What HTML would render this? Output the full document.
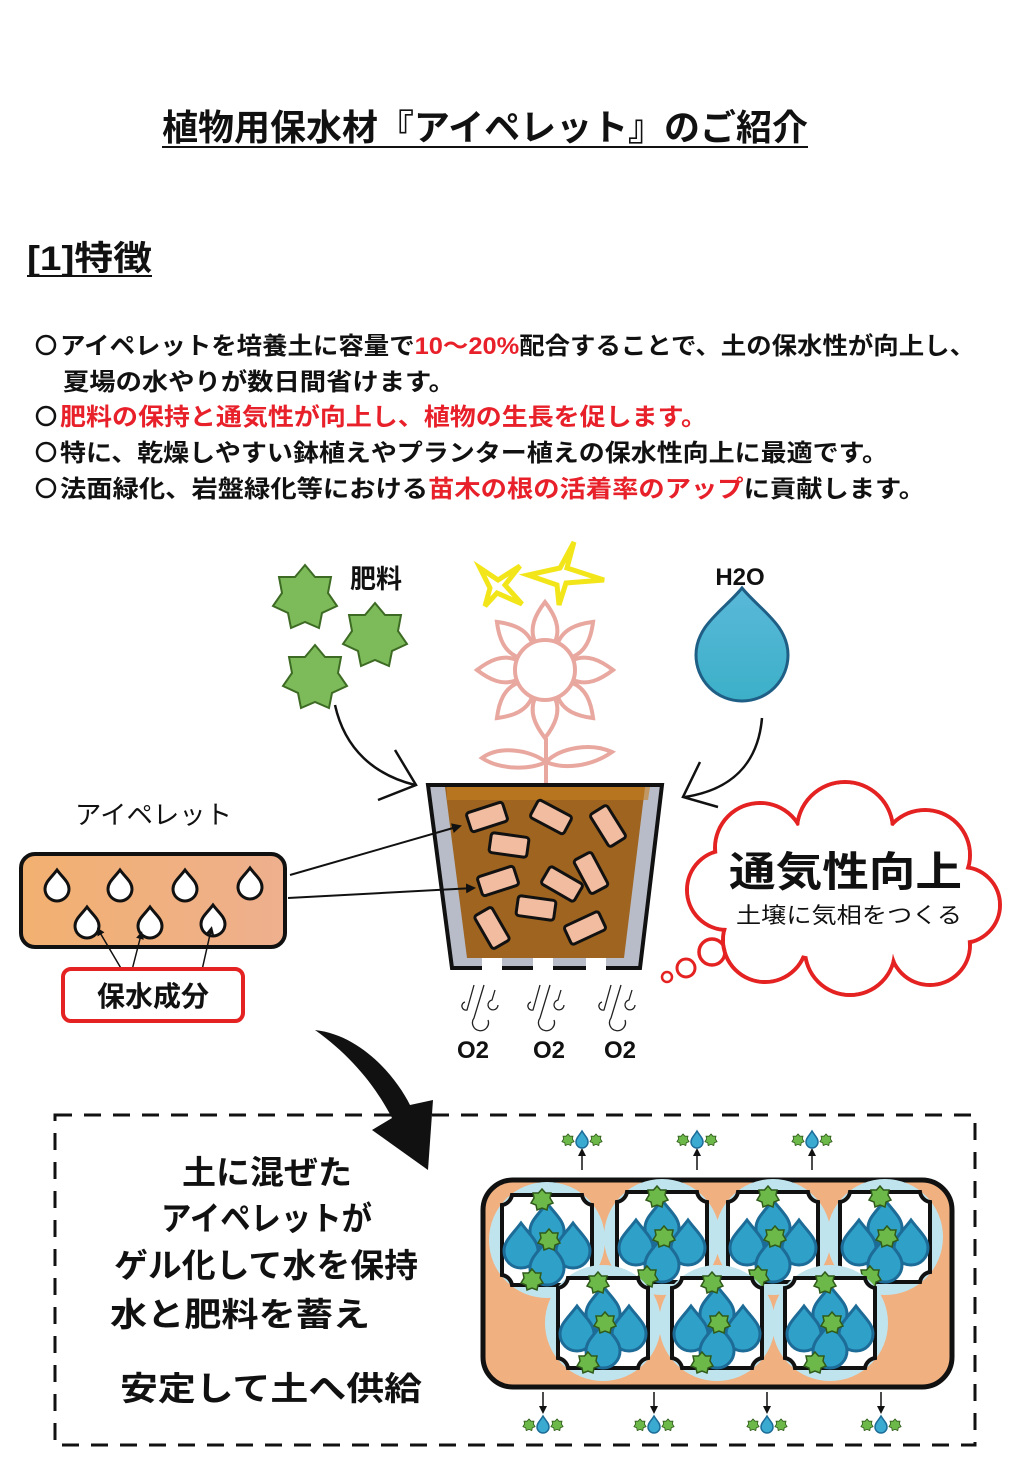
<!DOCTYPE html>
<html><head><meta charset="utf-8"><style>
html,body{margin:0;padding:0;background:#fff;}
svg{display:block;font-family:"Liberation Sans","Noto Sans CJK JP",sans-serif;}
</style></head><body>
<svg width="1023" height="1481" viewBox="0 0 1023 1481" xmlns="http://www.w3.org/2000/svg">
<defs>
<linearGradient id="pel" x1="0" y1="0" x2="1" y2="0"><stop offset="0" stop-color="#f2b070"/><stop offset="1" stop-color="#eeb08e"/></linearGradient>
<linearGradient id="drop" x1="0" y1="0" x2="0" y2="1"><stop offset="0" stop-color="#5ab8d8"/><stop offset="1" stop-color="#3cb0c8"/></linearGradient>
<g id="star"><polygon points="0,-33 10,-21 26,-21 23,-5 32,8 17,15 14,30 0,24 -14,30 -17,15 -32,8 -23,-5 -26,-21 -10,-21" fill="#7dbb5a" stroke="#3d6b24" stroke-width="2"/></g>
<g id="sstar"><polygon points="0,-11 3.5,-7 9,-7 8,-2 11,3 6,5 5,10 0,8 -5,10 -6,5 -11,3 -8,-2 -9,-7 -3.5,-7" fill="#6cb848" stroke="#2f5a1a" stroke-width="1.5"/></g>
<g id="wd"><path d="M0,-14 C6,-6 12,-2 12,5 A12,12 0 0 1 -12,5 C-12,-2 -6,-6 0,-14Z" fill="#fff" stroke="#111" stroke-width="3"/></g>
<g id="bd"><path d="M0,-22 C9,-10 17,-4 17,6 A17,17 0 0 1 -17,6 C-17,-4 -9,-10 0,-22Z" fill="#2fa0c8" stroke="#1d6c98" stroke-width="3"/></g>
<g id="cell">
<circle r="58" fill="#bfe4ee"/>
<path d="M-45,-35 A12,12 0 0 0 -35,-45 L35,-45 A12,12 0 0 0 45,-35 L45,35 A12,12 0 0 0 35,45 L-35,45 A12,12 0 0 0 -45,35Z" fill="#fff" stroke="#111" stroke-width="4"/>
<use href="#bd" x="0" y="-15"/><use href="#bd" x="-26" y="5"/><use href="#bd" x="26" y="5"/><use href="#bd" x="0" y="22"/>
<use href="#sstar" x="-5" y="-40"/><use href="#sstar" x="2" y="0"/><use href="#sstar" x="-15" y="40"/>
</g>
<g id="mini"><use href="#sstar" transform="translate(-14,0) scale(.55)"/><path d="M0,-9 C3,-4 6,-2 6,2 A6,6 0 0 1 -6,2 C-6,-2 -3,-4 0,-9Z" fill="#3aaad0" stroke="#1d6c98" stroke-width="1.5"/><use href="#sstar" transform="translate(14,0) scale(.55)"/></g>
<marker id="ah" markerWidth="10" markerHeight="10" refX="8" refY="5" orient="auto" markerUnits="userSpaceOnUse"><path d="M0,0 L10,5 L0,10Z" fill="#111"/></marker>
<marker id="sa" markerWidth="8" markerHeight="8" refX="4" refY="4" orient="auto" markerUnits="userSpaceOnUse"><path d="M0,0 L8,4 L0,8Z" fill="#111"/></marker>
</defs>

<!-- title -->
<text x="162" y="140" font-size="36" font-weight="bold" fill="#111" textLength="646" lengthAdjust="spacingAndGlyphs">植物用保水材『アイペレット』のご紹介</text>
<line x1="162" y1="147" x2="808" y2="147" stroke="#111" stroke-width="2"/>
<text x="27" y="270" font-size="34" font-weight="bold" fill="#111" textLength="125" lengthAdjust="spacingAndGlyphs">[1]特徴</text>
<line x1="27" y1="276" x2="152" y2="276" stroke="#111" stroke-width="2"/>

<g fill="none" stroke="#111" stroke-width="2.5">
<circle cx="46" cy="345" r="9"/><circle cx="46" cy="416" r="9"/><circle cx="46" cy="452" r="9"/><circle cx="46" cy="488" r="9"/>
</g>
<g font-size="24" font-weight="bold" fill="#111">
<text x="60" y="354" textLength="915" lengthAdjust="spacingAndGlyphs">アイペレットを培養土に容量で<tspan fill="#e8202a">10～20%</tspan>配合することで、土の保水性が向上し、</text>
<text x="63" y="390" textLength="392" lengthAdjust="spacingAndGlyphs">夏場の水やりが数日間省けます。</text>
<text x="60" y="425" fill="#e8202a" textLength="647" lengthAdjust="spacingAndGlyphs">肥料の保持と通気性が向上し、植物の生長を促します。</text>
<text x="60" y="461" textLength="828" lengthAdjust="spacingAndGlyphs">特に、乾燥しやすい鉢植えやプランター植えの保水性向上に最適です。</text>
<text x="60" y="497" textLength="865" lengthAdjust="spacingAndGlyphs">法面緑化、岩盤緑化等における<tspan fill="#e8202a">苗木の根の活着率のアップ</tspan>に貢献します。</text>
</g>

<!-- fertilizer -->
<use href="#star" x="305" y="598"/><use href="#star" x="375" y="636"/><use href="#star" x="315" y="678"/>
<text x="350" y="588" font-size="26" font-weight="bold" fill="#111">肥料</text>
<path d="M335,705 C345,750 375,775 415,785" fill="none" stroke="#111" stroke-width="2.5"/>
<path d="M395,750 L416,785 L378,800" fill="none" stroke="#111" stroke-width="2.5"/>

<!-- sparkles -->
<path d="M480,568 L498,580 L520,566 L505,585 L522,604 L497,593 L485,606 L490,588Z" fill="#fff" stroke="#f2e61a" stroke-width="5"/>
<path d="M574,542 L567,568 L604,580 L566,583 L559,605 L557,585 L528,575 L560,568Z" fill="#fff" stroke="#f2e61a" stroke-width="5"/>

<!-- flower -->
<g fill="#fff" stroke="#e8a8a0" stroke-width="4">
<g transform="translate(545,670)">
<path d="M-10,-28 C-16,-42 -10,-55 0,-68 C10,-55 16,-42 10,-28Z" transform="rotate(0)"/>
<path d="M-10,-28 C-16,-42 -10,-55 0,-68 C10,-55 16,-42 10,-28Z" transform="rotate(45)"/>
<path d="M-10,-28 C-16,-42 -10,-55 0,-68 C10,-55 16,-42 10,-28Z" transform="rotate(90)"/>
<path d="M-10,-28 C-16,-42 -10,-55 0,-68 C10,-55 16,-42 10,-28Z" transform="rotate(135)"/>
<path d="M-10,-28 C-16,-42 -10,-55 0,-68 C10,-55 16,-42 10,-28Z" transform="rotate(180)"/>
<path d="M-10,-28 C-16,-42 -10,-55 0,-68 C10,-55 16,-42 10,-28Z" transform="rotate(225)"/>
<path d="M-10,-28 C-16,-42 -10,-55 0,-68 C10,-55 16,-42 10,-28Z" transform="rotate(270)"/>
<path d="M-10,-28 C-16,-42 -10,-55 0,-68 C10,-55 16,-42 10,-28Z" transform="rotate(315)"/>
<circle r="30"/>
</g>
<line x1="546" y1="738" x2="546" y2="785"/>
<path d="M546,762 C530,750 500,745 482,758 C500,770 530,770 546,762Z"/>
<path d="M546,762 C560,748 590,742 612,752 C592,766 565,770 546,762Z"/>
</g>

<!-- water drop -->
<text x="740" y="585" font-size="24" font-weight="bold" text-anchor="middle" fill="#111">H2O</text>
<path d="M742,588 C760,610 788,625 788,655 A46,46 0 0 1 696,655 C696,625 724,610 742,588Z" fill="url(#drop)" stroke="#1f5f86" stroke-width="3"/>
<path d="M762,718 C758,765 730,790 685,797" fill="none" stroke="#111" stroke-width="2.5"/>
<path d="M700,762 L683,797 L718,807" fill="none" stroke="#111" stroke-width="2.5"/>

<!-- pot -->
<path d="M428,785 L662,785 L640,968 L452,968Z" fill="#b7bcc8" stroke="#111" stroke-width="4"/>
<path d="M445,787 L645,787 L624,958 L467,958Z" fill="#9e6420"/>
<path d="M447,787 L650,787 L648,800 L447,800Z" fill="#c88020" opacity=".6"/>
<rect x="482" y="958" width="20" height="14" fill="#fff"/><rect x="533" y="958" width="20" height="14" fill="#fff"/><rect x="586" y="958" width="20" height="14" fill="#fff"/>
<g fill="#f1bca0" stroke="#111" stroke-width="3">
<rect x="-19" y="-10" width="38" height="20" rx="3" transform="translate(487,817) rotate(-18)"/>
<rect x="-19" y="-10" width="38" height="20" rx="3" transform="translate(551,817) rotate(28)"/>
<rect x="-19" y="-10" width="38" height="20" rx="3" transform="translate(608,826) rotate(58)"/>
<rect x="-19" y="-10" width="38" height="20" rx="3" transform="translate(509,845) rotate(8)"/>
<rect x="-19" y="-10" width="38" height="20" rx="3" transform="translate(591,873) rotate(62)"/>
<rect x="-19" y="-10" width="38" height="20" rx="3" transform="translate(498,881) rotate(-18)"/>
<rect x="-19" y="-10" width="38" height="20" rx="3" transform="translate(562,884) rotate(30)"/>
<rect x="-19" y="-10" width="38" height="20" rx="3" transform="translate(536,908) rotate(8)"/>
<rect x="-19" y="-10" width="38" height="20" rx="3" transform="translate(492,928) rotate(60)"/>
<rect x="-19" y="-10" width="38" height="20" rx="3" transform="translate(585,928) rotate(-25)"/>
</g>
<!-- air -->
<g fill="none" stroke="#222" stroke-width="1.3">
<g id="air"><path d="M474,985 L467,1010 A4,4 0 0 1 465,1002"/><path d="M484,985 L474,1018 A8,8 0 1 0 488,1020"/><path d="M495,990 L492,1000 A5,5 0 1 0 498,1005"/></g>
<use href="#air" x="66"/><use href="#air" x="137"/>
</g>
<g font-size="24" font-weight="bold" fill="#111" text-anchor="middle">
<text x="473" y="1058">O2</text><text x="549" y="1058">O2</text><text x="620" y="1058">O2</text>
</g>

<!-- cloud -->
<g fill="none" stroke="#e52222" stroke-width="4">
<circle cx="760" cy="848" r="45"/><circle cx="845" cy="830" r="48"/><circle cx="925" cy="855" r="45"/><circle cx="962" cy="905" r="38"/><circle cx="930" cy="945" r="40"/><circle cx="850" cy="950" r="45"/><circle cx="765" cy="940" r="42"/><circle cx="727" cy="890" r="40"/>
<circle cx="712" cy="952" r="13" stroke-width="3.5"/><circle cx="686" cy="968" r="9" stroke-width="3"/><circle cx="667" cy="977" r="5" stroke-width="2.5"/>
</g>
<g fill="#fff">
<circle cx="760" cy="848" r="43"/><circle cx="845" cy="830" r="46"/><circle cx="925" cy="855" r="43"/><circle cx="962" cy="905" r="36"/><circle cx="930" cy="945" r="38"/><circle cx="850" cy="950" r="43"/><circle cx="765" cy="940" r="40"/><circle cx="727" cy="890" r="38"/><ellipse cx="845" cy="890" rx="120" ry="70"/>
</g>
<text x="729" y="886" font-size="41" font-weight="bold" fill="#111" textLength="233" lengthAdjust="spacingAndGlyphs">通気性向上</text>
<text x="736" y="923" font-size="22" fill="#111" textLength="226" lengthAdjust="spacingAndGlyphs">土壌に気相をつくる</text>

<!-- pellet -->
<text x="75" y="824" font-size="26" fill="#111" textLength="157" lengthAdjust="spacingAndGlyphs">アイペレット</text>
<rect x="21" y="854" width="264" height="93" rx="14" fill="url(#pel)" stroke="#111" stroke-width="4"/>
<use href="#wd" x="57" y="884"/><use href="#wd" x="120" y="884"/><use href="#wd" x="185" y="884"/><use href="#wd" x="250" y="882"/>
<use href="#wd" x="87" y="921"/><use href="#wd" x="150" y="921"/><use href="#wd" x="213" y="919"/>
<line x1="290" y1="875" x2="460" y2="826" stroke="#111" stroke-width="2" marker-end="url(#ah)"/>
<line x1="288" y1="898" x2="474" y2="888" stroke="#111" stroke-width="2" marker-end="url(#ah)"/>
<line x1="122" y1="970" x2="99" y2="931" stroke="#111" stroke-width="1.5" marker-end="url(#sa)"/>
<line x1="132" y1="970" x2="141" y2="935" stroke="#111" stroke-width="1.5" marker-end="url(#sa)"/>
<line x1="202" y1="970" x2="211" y2="930" stroke="#111" stroke-width="1.5" marker-end="url(#sa)"/>
<rect x="63" y="969" width="180" height="52" rx="8" fill="#fff" stroke="#e52222" stroke-width="4"/>
<text x="153" y="1006" font-size="28" font-weight="bold" text-anchor="middle" fill="#111">保水成分</text>

<!-- big arrow -->
<path d="M315,1030 C360,1035 395,1075 410,1105 L433,1100 L428,1170 L372,1130 L392,1118 C375,1085 350,1055 315,1030Z" fill="#111"/>

<!-- dashed box -->
<rect x="55" y="1115" width="920" height="330" fill="none" stroke="#111" stroke-width="3" stroke-dasharray="17,12"/>
<g font-size="33" font-weight="bold" fill="#111">
<text x="182" y="1184" textLength="170" lengthAdjust="spacingAndGlyphs">土に混ぜた</text>
<text x="161" y="1230" textLength="211" lengthAdjust="spacingAndGlyphs">アイペレットが</text>
<text x="114" y="1277" textLength="304" lengthAdjust="spacingAndGlyphs">ゲル化して水を保持</text>
<text x="110" y="1326" textLength="260" lengthAdjust="spacingAndGlyphs">水と肥料を蓄え</text>
<text x="120" y="1400" textLength="302" lengthAdjust="spacingAndGlyphs">安定して土へ供給</text>
</g>

<!-- gel box -->
<rect x="483" y="1180" width="469" height="207" rx="30" fill="#f1b080" stroke="#111" stroke-width="5"/>
<use href="#cell" x="547" y="1240"/><use href="#cell" x="662" y="1237"/><use href="#cell" x="773" y="1237"/><use href="#cell" x="885" y="1237"/>
<use href="#cell" x="603" y="1323"/><use href="#cell" x="717" y="1323"/><use href="#cell" x="830" y="1323"/>

<g stroke="#111" stroke-width="1.5">
<line x1="582" y1="1170" x2="582" y2="1152" marker-end="url(#sa)"/>
<line x1="697" y1="1170" x2="697" y2="1152" marker-end="url(#sa)"/>
<line x1="812" y1="1170" x2="812" y2="1152" marker-end="url(#sa)"/>
<line x1="543" y1="1392" x2="543" y2="1410" marker-end="url(#sa)"/>
<line x1="654" y1="1392" x2="654" y2="1410" marker-end="url(#sa)"/>
<line x1="767" y1="1392" x2="767" y2="1410" marker-end="url(#sa)"/>
<line x1="881" y1="1392" x2="881" y2="1410" marker-end="url(#sa)"/>
</g>
<use href="#mini" x="582" y="1140"/><use href="#mini" x="697" y="1140"/><use href="#mini" x="812" y="1140"/>
<use href="#mini" x="543" y="1425"/><use href="#mini" x="654" y="1425"/><use href="#mini" x="767" y="1425"/><use href="#mini" x="881" y="1425"/>
</svg>
</body></html>
